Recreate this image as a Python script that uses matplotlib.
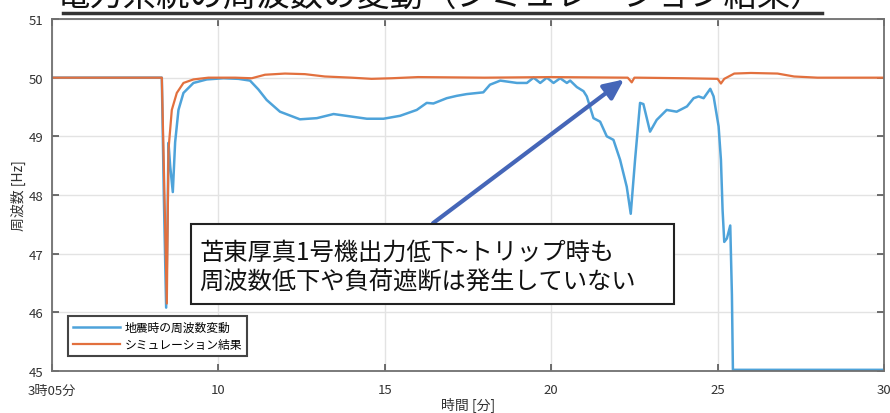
import matplotlib
matplotlib.use("Agg")
import matplotlib.pyplot as plt
from matplotlib.lines import Line2D
from matplotlib.patches import Rectangle

plt.rcParams["font.family"] = ["Noto Sans CJK JP", "DejaVu Sans"]

# ---------------------------------------------------
# Data (minutes, Hz)
# ---------------------------------------------------
t_quake = [5.0, 8.30, 8.36, 8.43, 8.47, 8.50, 8.55, 8.63, 8.70, 8.80, 8.95, 9.25, 9.65,
           10.15, 10.60, 10.95, 11.20, 11.45, 11.85, 12.45, 12.96, 13.46, 13.96, 14.46,
           14.96, 15.46, 15.96, 16.26, 16.46, 16.86, 17.16, 17.46, 17.96, 18.16, 18.47,
           18.97, 19.27, 19.47, 19.67, 19.87, 20.07, 20.27, 20.47, 20.57, 20.77, 20.97,
           21.07, 21.27, 21.47, 21.67, 21.87, 22.07, 22.27, 22.39, 22.52, 22.67, 22.77,
           22.97, 23.17, 23.47, 23.77, 24.08, 24.28, 24.43, 24.58, 24.78, 24.88, 25.03,
           25.10, 25.15, 25.20, 25.28, 25.38, 25.43, 25.46, 30.0]
f_quake = [50.0, 50.0, 48.0, 46.08, 47.5, 48.89, 48.5, 48.05, 48.9, 49.45, 49.74, 49.91, 49.97,
           49.99, 49.98, 49.95, 49.80, 49.62, 49.42, 49.29, 49.31, 49.38, 49.34, 49.30,
           49.30, 49.35, 49.45, 49.57, 49.56, 49.65, 49.69, 49.72, 49.75, 49.88, 49.95,
           49.91, 49.91, 50.0, 49.91, 50.0, 49.91, 49.99, 49.91, 49.95, 49.84, 49.77,
           49.68, 49.31, 49.25, 49.0, 48.94, 48.6, 48.14, 47.68, 48.6, 49.57, 49.55,
           49.08, 49.28, 49.45, 49.42, 49.51, 49.65, 49.68, 49.65, 49.81, 49.68, 49.17,
           48.6, 47.74, 47.2, 47.26, 47.48, 46.3, 45.02, 45.02]

t_sim = [5.0, 8.30, 8.38, 8.45, 8.50, 8.60, 8.75, 8.95, 9.25, 9.70, 10.5, 11.0, 11.4, 12.0,
         12.6, 13.2, 14.0, 14.6, 15.2, 16.0, 18.0, 20.0, 22.3, 22.42, 22.5, 22.6, 24.0,
         25.0, 25.1, 25.2, 25.5, 26.0, 26.8, 27.3, 28.0, 30.0]
f_sim = [50.0, 50.0, 48.0, 46.15, 48.77, 49.45, 49.74, 49.91, 49.97, 50.0, 50.0, 49.99,
         50.05, 50.07, 50.06, 50.02, 50.0, 49.98, 49.99, 50.01, 50.0, 50.01, 50.0, 49.92,
         50.0, 50.0, 49.99, 49.98, 49.90, 49.98, 50.07, 50.08, 50.07, 50.02, 50.0, 50.0]

x_ticks = [5, 10, 15, 20, 25, 30]
x_tick_labels = ["3時05分", "10", "15", "20", "25", "30"]
y_ticks = [45, 46, 47, 48, 49, 50, 51]

# ---------------------------------------------------
# Figure
# ---------------------------------------------------
fig = plt.figure(figsize=(8.9, 4.14), dpi=100)
ax = fig.add_axes([52 / 890, 1 - 372 / 414, 832 / 890, 352 / 414])

ax.plot(t_quake, f_quake, color="#4ea3da", linewidth=1.8, label="地震時の周波数変動")
ax.plot(t_sim, f_sim, color="#e2703e", linewidth=1.6, label="シミュレーション結果")

ax.set_xlim(5, 30)
ax.set_ylim(45, 51)
ax.set_xticks(x_ticks)
ax.set_xticklabels(x_tick_labels)
ax.set_yticks(y_ticks)

tick_font = ["Liberation Sans Narrow", "Noto Sans CJK JP"]
for lbl in ax.get_xticklabels() + ax.get_yticklabels():
    lbl.set_family(tick_font)
    lbl.set_fontsize(9.5)
    lbl.set_color("#333333")

ax.tick_params(direction="in", length=5, width=1.2, color="#555555",
               top=True, right=True)
ax.tick_params(axis="x", pad=9)
ax.tick_params(axis="y", pad=6)
ax.grid(True, color="#e3e3e3", linewidth=1)
for sp in ax.spines.values():
    sp.set_color("#707070")
    sp.set_linewidth(1.3)

ax.set_xlabel("時間 [分]", fontsize=10, color="#333333", labelpad=0)
ax.set_ylabel("周波数 [Hz]", fontsize=10, color="#333333", labelpad=2)

leg = ax.legend(loc="lower left", bbox_to_anchor=(0.019, 0.043), borderaxespad=0,
                fontsize=8.5, handlelength=4.0, borderpad=0.4, labelspacing=0.35,
                handletextpad=0.4, fancybox=False, framealpha=1, edgecolor="#444444")
leg.get_frame().set_linewidth(1.5)

# arrow pointing at the simulation trace
ax.annotate("", xy=(22.19, 49.97), xytext=(16.45, 47.52),
            arrowprops=dict(arrowstyle="-|>,head_length=1.2,head_width=0.55",
                            color="#4566b8", linewidth=3, shrinkA=0, shrinkB=0),
            zorder=5)

# comment box
fig.add_artist(Rectangle((191 / 890, 1 - 305 / 414), 483 / 890, 80 / 414,
                         transform=fig.transFigure, facecolor="white",
                         edgecolor="#222222", linewidth=1.5, zorder=6))
fig.text(199 / 890, 1 - 253 / 414, "苫東厚真1号機出力低下~トリップ時も",
         fontsize=17.5, va="center", ha="left", color="#111111", zorder=7)
fig.text(199 / 890, 1 - 283 / 414, "周波数低下や負荷遮断は発生していない",
         fontsize=17.5, va="center", ha="left", color="#111111", zorder=7)

# title, cut off by the top edge as in the source slide
fig.text(440 / 890, 1 + 4 / 414, "電力系統の周波数の変動（シミュレーション結果）",
         fontsize=24, ha="center", va="center", color="#111111")
fig.add_artist(Line2D([63 / 890, 822 / 890], [1 - 14 / 414, 1 - 14 / 414],
                      transform=fig.transFigure, color="#333333", linewidth=2.5))

fig.savefig("out.png", dpi=100)
